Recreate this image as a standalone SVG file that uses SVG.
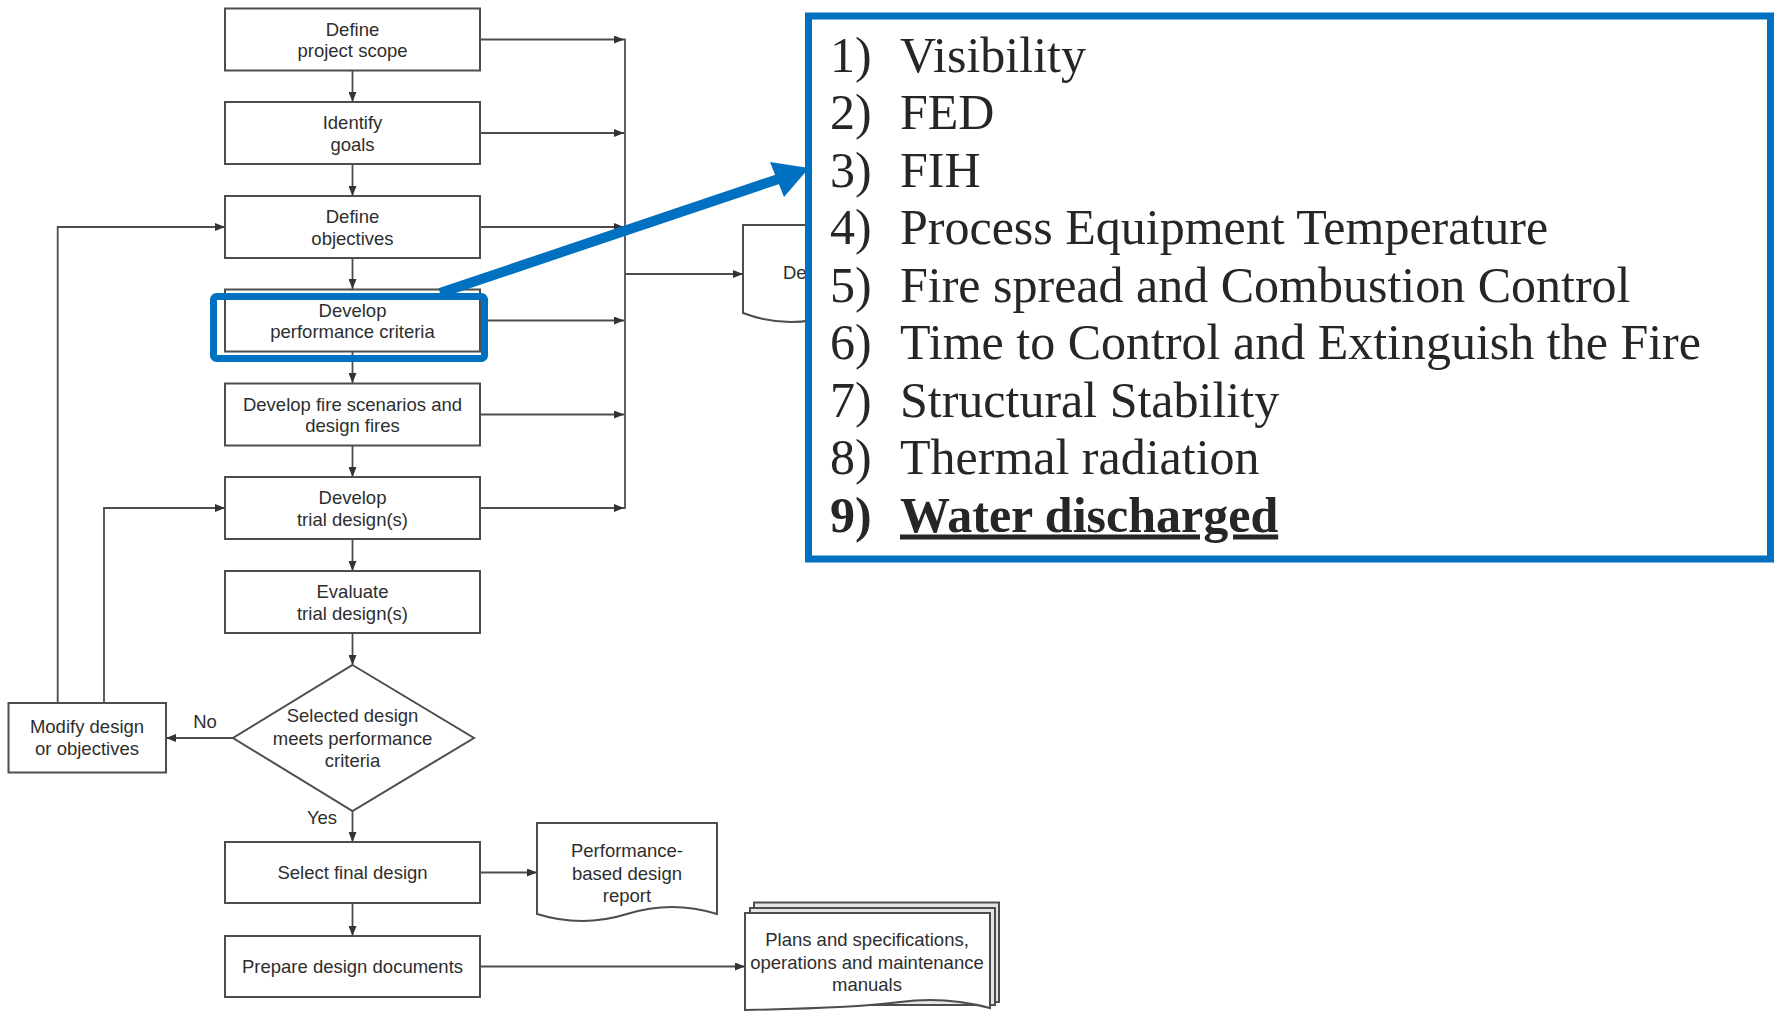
<svg xmlns="http://www.w3.org/2000/svg" width="1774" height="1014" viewBox="0 0 1774 1014">
<style>
.box{fill:#fff;stroke:#4d4d4d;stroke-width:2}
.doc{fill:#fff;stroke:#4d4d4d;stroke-width:2}
.docb{fill:#e6e6e6;stroke:#4d4d4d;stroke-width:2}
.t{font-family:"Liberation Sans",Arial,sans-serif;font-size:18.5px;fill:#2e2e2e;text-anchor:middle}
.tl{font-family:"Liberation Sans",Arial,sans-serif;font-size:18.5px;fill:#2e2e2e}
.c{fill:none;stroke:#4d4d4d;stroke-width:1.8}
.ca{fill:none;stroke:#4d4d4d;stroke-width:1.8;marker-end:url(#ah)}
.li{font-family:"Liberation Serif","Times New Roman",serif;font-size:50px;fill:#262626}
.blue{fill:none;stroke:#0070C0;stroke-width:7}
</style>
<defs>
<marker id="ah" viewBox="0 0 10 8" refX="10" refY="4" markerWidth="10" markerHeight="8" markerUnits="userSpaceOnUse" orient="auto">
<path d="M0,0 L10,4 L0,8 Z" fill="#333"/>
</marker>
</defs>
<rect width="1774" height="1014" fill="#fff"/>

<g id="connectors">
<line class="ca" x1="352.5" y1="71" x2="352.5" y2="102"/>
<line class="ca" x1="352.5" y1="164" x2="352.5" y2="196"/>
<line class="ca" x1="352.5" y1="258" x2="352.5" y2="289"/>
<line class="ca" x1="352.5" y1="352" x2="352.5" y2="383"/>
<line class="ca" x1="352.5" y1="446" x2="352.5" y2="477"/>
<line class="ca" x1="352.5" y1="539" x2="352.5" y2="571"/>
<line class="ca" x1="352.5" y1="633" x2="352.5" y2="665"/>
<line class="ca" x1="352.5" y1="811" x2="352.5" y2="842"/>
<line class="ca" x1="352.5" y1="903" x2="352.5" y2="936"/>
<line class="ca" x1="480" y1="39.5" x2="624" y2="39.5"/>
<line class="ca" x1="480" y1="133" x2="624" y2="133"/>
<line class="ca" x1="480" y1="227" x2="624" y2="227"/>
<line class="ca" x1="480" y1="320.5" x2="624" y2="320.5"/>
<line class="ca" x1="480" y1="414.5" x2="624" y2="414.5"/>
<line class="ca" x1="480" y1="508" x2="624" y2="508"/>
<line class="c" x1="625" y1="38.6" x2="625" y2="508.9"/>
<line class="ca" x1="625" y1="274" x2="743" y2="274"/>
<polyline class="ca" points="57.7,703 57.7,227 225,227"/>
<polyline class="ca" points="104,703 104,508 225,508"/>
<line class="ca" x1="233" y1="738" x2="166" y2="738"/>
<line class="ca" x1="480" y1="872.5" x2="537" y2="872.5"/>
<line class="ca" x1="480" y1="966.5" x2="745" y2="966.5"/>
<text class="t" x="205" y="728">No</text>
<text class="t" x="322" y="824">Yes</text>
</g>

<g id="n1"><rect class="box" x="225" y="8.5" width="255" height="62"/>
<text class="t" x="352.5" y="35.5">Define</text><text class="t" x="352.5" y="57">project scope</text></g>
<g id="n2"><rect class="box" x="225" y="102" width="255" height="62"/>
<text class="t" x="352.5" y="129">Identify</text><text class="t" x="352.5" y="150.5">goals</text></g>
<g id="n3"><rect class="box" x="225" y="196" width="255" height="62"/>
<text class="t" x="352.5" y="223">Define</text><text class="t" x="352.5" y="244.5">objectives</text></g>
<g id="n4"><rect class="box" x="225" y="289.5" width="255" height="62"/>
<text class="t" x="352.5" y="316.5">Develop</text><text class="t" x="352.5" y="338">performance criteria</text></g>
<g id="n5"><rect class="box" x="225" y="383.5" width="255" height="62"/>
<text class="t" x="352.5" y="410.5">Develop fire scenarios and</text><text class="t" x="352.5" y="432">design fires</text></g>
<g id="n6"><rect class="box" x="225" y="477" width="255" height="62"/>
<text class="t" x="352.5" y="504">Develop</text><text class="t" x="352.5" y="525.5">trial design(s)</text></g>
<g id="n7"><rect class="box" x="225" y="571" width="255" height="62"/>
<text class="t" x="352.5" y="598">Evaluate</text><text class="t" x="352.5" y="619.5">trial design(s)</text></g>
<g id="n8"><polygon class="box" points="352.5,665 474,738 352.5,811 233,738"/>
<text class="t" x="352.5" y="722">Selected design</text><text class="t" x="352.5" y="744.5">meets performance</text><text class="t" x="352.5" y="767">criteria</text></g>
<g id="n9"><rect class="box" x="8.5" y="703" width="157.5" height="69.5"/>
<text class="t" x="87" y="732.5">Modify design</text><text class="t" x="87" y="755">or objectives</text></g>
<g id="n10"><rect class="box" x="225" y="842" width="255" height="61"/>
<text class="t" x="352.5" y="879">Select final design</text></g>
<g id="n11"><rect class="box" x="225" y="936" width="255" height="61"/>
<text class="t" x="352.5" y="973">Prepare design documents</text></g>
<g id="n12"><path class="doc" d="M537,823 H717 V914 Q672,900 627,914 T537,914 Z"/>
<text class="t" x="627" y="857">Performance-</text><text class="t" x="627" y="879.5">based design</text><text class="t" x="627" y="901.5">report</text></g>
<g id="n13">
<path class="docb" d="M754,902.5 H999 V1002 L754,1002 Z"/>
<path class="docb" d="M750,908 H995 V1005 L750,1005 Z"/>
<path class="doc" d="M745,913 H990 V1008 Q945,996 900,1002 T745,1010 Z"/>
<text class="t" x="867" y="946">Plans and specifications,</text><text class="t" x="867" y="968.5">operations and maintenance</text><text class="t" x="867" y="990.5">manuals</text></g>
<g id="n14"><path class="doc" d="M743,225 H923 V314 Q878,300 833,315 T743,313 Z"/>
<text class="tl" x="783" y="279">De</text></g>

<g id="callout">
<rect x="808.5" y="16" width="962" height="543" fill="#fff" stroke="#0070C0" stroke-width="7"/>
<text class="li" x="830" y="71.5">1)</text><text class="li" x="900" y="71.5">Visibility</text>
<text class="li" x="830" y="129">2)</text><text class="li" x="900" y="129">FED</text>
<text class="li" x="830" y="186.5">3)</text><text class="li" x="900" y="186.5">FIH</text>
<text class="li" x="830" y="244">4)</text><text class="li" x="900" y="244">Process Equipment Temperature</text>
<text class="li" x="830" y="301.5">5)</text><text class="li" x="900" y="301.5">Fire spread and Combustion Control</text>
<text class="li" x="830" y="359">6)</text><text class="li" x="900" y="359">Time to Control and Extinguish the Fire</text>
<text class="li" x="830" y="416.5">7)</text><text class="li" x="900" y="416.5">Structural Stability</text>
<text class="li" x="830" y="474">8)</text><text class="li" x="900" y="474">Thermal radiation</text>
<text class="li" x="830" y="531.5" font-weight="bold">9)</text><text class="li" x="900" y="531.5" font-weight="bold" text-decoration="underline">Water discharged</text>
</g>

<g id="highlight">
<rect class="blue" x="213.5" y="296.5" width="271" height="62" rx="3"/>
<line x1="440" y1="293" x2="780" y2="178.5" stroke="#0070C0" stroke-width="10"/>
<polygon points="809,168 770,162 784,197" fill="#0070C0"/>
</g>
</svg>
